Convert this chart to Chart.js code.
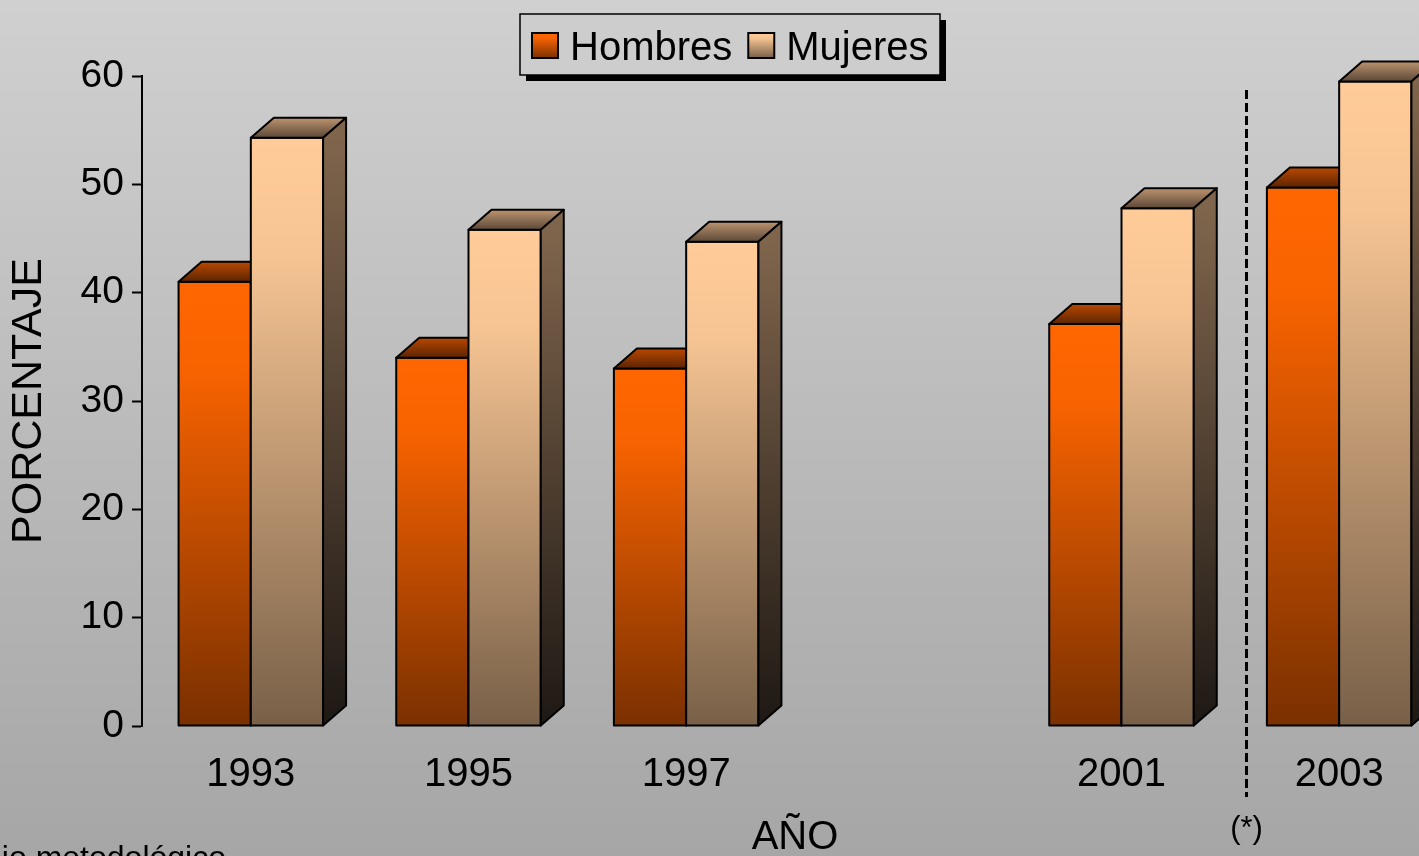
<!DOCTYPE html>
<html>
<head>
<meta charset="utf-8">
<script src="https://cdn.jsdelivr.net/npm/chart.js@4"></script>
<style>
  html, body { margin: 0; padding: 0; overflow: hidden; background: #b8b8b8; }
  #wrap { width: 1419px; height: 856px; overflow: hidden; }
  #wrap div { width: 1450px; height: 856px; }
</style>
</head>
<body>
<div id="wrap"><div><canvas id="chart"></canvas></div></div>
<script>
// Chart data
const years = ['1993', '1995', '1997', '', '2001', '2003'];
const hombres = [41, 34, 33, null, 37.1, 49.7];
const mujeres = [54.3, 45.8, 44.7, null, 47.8, 59.5];
const seriesNames = ['Hombres', 'Mujeres'];
const yTicks = [0, 10, 20, 30, 40, 50, 60];

// Colours for the 3D faces (gradient stops top -> bottom)
const barStyles = [
    {
        front: ['rgb(255,102,0)', 'rgb(248,99,0)', 'rgb(122,48,0)'],
        top: ['rgb(185,72,0)', 'rgb(92,36,0)'],
        side: ['rgb(150,60,0)', 'rgb(50,20,0)']
    },
    {
        front: ['rgb(255,204,153)', 'rgb(246,196,147)', 'rgb(120,96,72)'],
        top: ['rgb(188,148,112)', 'rgb(92,72,55)'],
        side: ['rgb(127,101,76)', 'rgb(30,24,20)']
    }
];
const DX = 23, DY = -20;

Chart.defaults.font.family = "'Liberation Sans', Arial, sans-serif";
Chart.defaults.color = '#000';

function linGrad(ctx, x0, y0, x1, y1, c) {
    const g = ctx.createLinearGradient(x0, y0, x1, y1);
    if (c.length === 3) {
        g.addColorStop(0, c[0]);
        g.addColorStop(0.2, c[1]);
        g.addColorStop(1, c[2]);
    } else {
        g.addColorStop(0, c[0]);
        g.addColorStop(1, c[1]);
    }
    return g;
}

// Draw one bar as a box with front, top and right side
function drawBox(ctx, bar, st) {
    const p = bar.getProps(['x', 'y', 'base', 'width'], true);
    const l = p.x - p.width / 2, r = p.x + p.width / 2, t = p.y, b = p.base;

    ctx.save();
    ctx.lineWidth = 2;
    ctx.strokeStyle = '#000';
    ctx.lineJoin = 'round';

    // front
    ctx.fillStyle = linGrad(ctx, 0, t, 0, b, st.front);
    ctx.fillRect(l, t, r - l, b - t);
    ctx.strokeRect(l, t, r - l, b - t);

    // top
    ctx.beginPath();
    ctx.moveTo(l, t);
    ctx.lineTo(l + DX, t + DY);
    ctx.lineTo(r + DX, t + DY);
    ctx.lineTo(r, t);
    ctx.closePath();
    ctx.fillStyle = linGrad(ctx, 0, t + DY, 0, t, st.top);
    ctx.fill();
    ctx.stroke();

    // side
    ctx.beginPath();
    ctx.moveTo(r, t);
    ctx.lineTo(r + DX, t + DY);
    ctx.lineTo(r + DX, b + DY);
    ctx.lineTo(r, b);
    ctx.closePath();
    ctx.fillStyle = linGrad(ctx, 0, t, 0, b, st.side);
    ctx.fill();
    ctx.stroke();
    ctx.restore();
}

const bar3d = {
    id: 'bar3d',
    beforeDraw(chart) {
        const ctx = chart.ctx;
        ctx.save();
        ctx.fillStyle = linGrad(ctx, 0, 0, 0, chart.height, ['rgb(208,208,208)', 'rgb(166,166,166)']);
        ctx.fillRect(0, 0, chart.width, chart.height);
        ctx.restore();
    },
    afterDatasetsDraw(chart) {
        // category by category, Hombres before Mujeres so the boxes overlap correctly
        chart.data.labels.forEach((lab, j) => {
            chart.data.datasets.forEach((ds, i) => {
                if (ds.data[j] == null) return;
                drawBox(chart.ctx, chart.getDatasetMeta(i).data[j], barStyles[i]);
            });
        });
    },
    afterDraw(chart) {
        const ctx = chart.ctx;
        const xs = chart.scales.x;

        // dashed separator before 2003
        const sx = Math.round(xs.getPixelForValue(4.57)) + 0.5;
        ctx.save();
        ctx.strokeStyle = '#000';
        ctx.lineWidth = 3;
        ctx.setLineDash([9, 4]);
        ctx.beginPath();
        ctx.moveTo(sx, 90);
        ctx.lineTo(sx, 797);
        ctx.stroke();
        ctx.setLineDash([]);

        ctx.fillStyle = '#000';
        ctx.font = "31px 'Liberation Sans', Arial";
        ctx.textAlign = 'center';
        ctx.textBaseline = 'alphabetic';
        ctx.fillText('(*)', sx, 838);

        // footnote, cut at the left and bottom edges
        ctx.textAlign = 'right';
        ctx.font = "32px 'Liberation Sans', Arial";
        ctx.fillText('(*) Cambio metodológico', 226, 868);

        // legend with drop shadow
        const lx = 520, ly = 14, lw = 420, lh = 61;
        ctx.fillStyle = '#000';
        ctx.fillRect(lx + 6, ly + 6, lw, lh);
        ctx.fillStyle = 'rgb(205,205,205)';
        ctx.fillRect(lx, ly, lw, lh);
        ctx.lineWidth = 1.5;
        ctx.strokeStyle = '#000';
        ctx.strokeRect(lx, ly, lw, lh);

        ctx.font = "40px 'Liberation Sans', Arial";
        ctx.textAlign = 'left';
        let cx = 532;
        chart.data.datasets.forEach((ds, i) => {
            ctx.fillStyle = linGrad(ctx, 0, 33, 0, 58, barStyles[i].front);
            ctx.fillRect(cx, 33, 26, 25);
            ctx.lineWidth = 2;
            ctx.strokeRect(cx, 33, 26, 25);
            ctx.fillStyle = '#000';
            ctx.fillText(ds.label, cx + 38, 60);
            cx += 38 + ctx.measureText(ds.label).width + 16;
        });
        ctx.restore();
    }
};

new Chart(document.getElementById('chart'), {
    type: 'bar',
    data: {
        labels: years,
        datasets: [
            { label: seriesNames[0], data: hombres },
            { label: seriesNames[1], data: mujeres }
        ]
    },
    options: {
        responsive: true,
        maintainAspectRatio: false,
        animation: false,
        layout: { padding: { top: 76, right: 2, left: 0, bottom: 0 } },
        datasets: {
            bar: {
                backgroundColor: 'rgba(0,0,0,0)',
                borderWidth: 0,
                categoryPercentage: 0.664,
                barPercentage: 1.0
            }
        },
        plugins: {
            legend: { display: false },
            tooltip: { enabled: false }
        },
        scales: {
            x: {
                grid: { display: false, drawTicks: false },
                border: { display: false },
                ticks: { font: { size: 40 }, padding: 25, maxRotation: 0 },
                title: {
                    display: true,
                    text: 'AÑO',
                    font: { size: 40, lineHeight: 1 },
                    padding: { top: 0, bottom: -2 }
                },
                afterFit(scale) { scale.height = 130; }
            },
            y: {
                min: 0,
                max: 60,
                afterBuildTicks(scale) { scale.ticks = yTicks.map(v => ({ value: v })); },
                grid: {
                    drawOnChartArea: false,
                    drawTicks: true,
                    tickLength: 10,
                    tickWidth: 2,
                    tickColor: '#000'
                },
                border: { display: true, color: '#000', width: 2 },
                ticks: { font: { size: 39 }, padding: 8 },
                title: {
                    display: true,
                    text: 'PORCENTAJE',
                    font: { size: 43 },
                    padding: { top: 3, bottom: 0 }
                },
                afterFit(scale) { scale.width = 142; }
            }
        }
    },
    plugins: [bar3d]
});
</script>
</body>
</html>
